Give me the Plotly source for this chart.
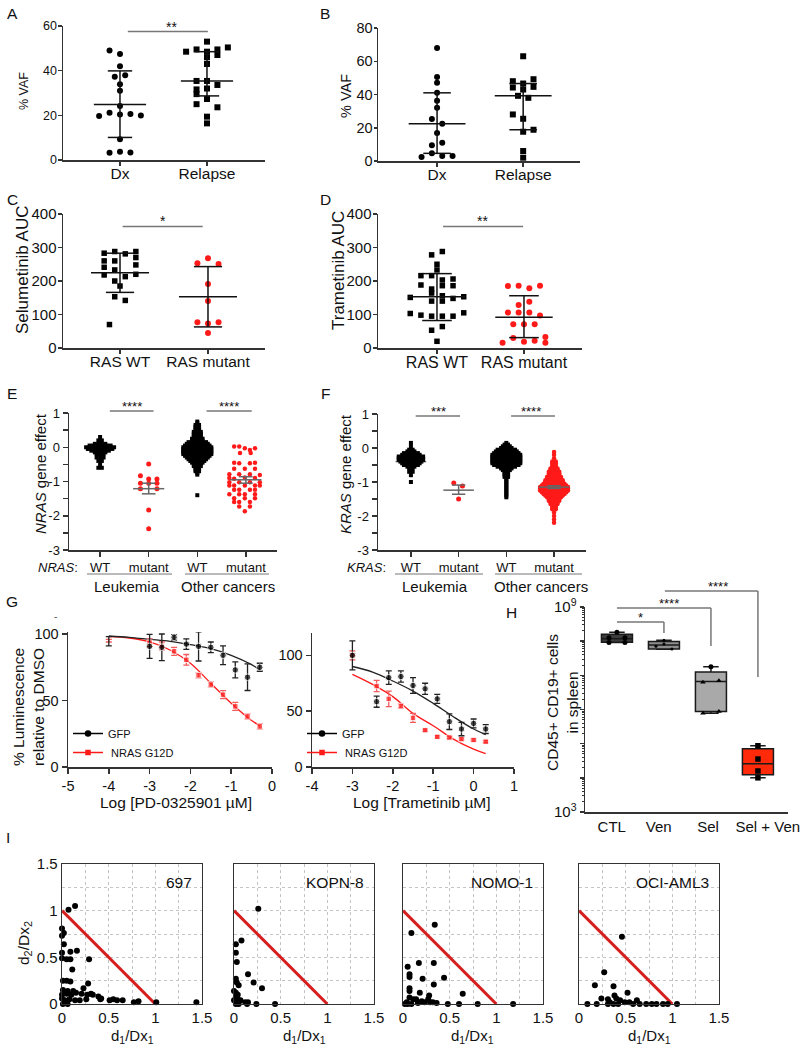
import math
import plotly.graph_objects as go

W, H = 809, 1050
FONT = "Liberation Sans, Arial, Helvetica, sans-serif"
INK = "#111111"
AXC = "#333333"
RED = "#ff1a1a"
RED_ERR = "#f25c5c"
BRK = "#777777"
MEANGRAY = "#666666"

# ======================= DATA =======================
# ---- A: % VAF, Dx vs Relapse ----
A_cats = ["Dx", "Relapse"]
A_dx = [49, 47.5, 42, 37.3, 38, 33.9, 31, 24.2, 21.2, 20.4, 20.6, 19.7, 19.9, 9.3, 3.3, 3.7, 3.4]
A_dx_jit = [-1, 0, 0, -0.5, 0.5, 0, 0, 0, -1, 0, 1, -2, 2, 0, -1, 0, 1]
A_rel = [48.5, 49.5, 53, 48.5, 49.5, 50.4, 46, 43, 47, 35.4, 35.4, 33.6, 31.6, 32, 29.5, 27.3, 25, 23.6, 19.4, 16.4]
A_rel_jit = [-2, -1, 0, 0, 1, 2, 0, 0, 1, -1, 0, 1, -1, 0, -1, 0, -1, 1, 0, 0]
A_mid = [24.9, 35.4]
A_lo = [10.1, 28.7]
A_hi = [39.9, 48.5]

# ---- B ----
B_cats = ["Dx", "Relapse"]
B_dx = [68, 50.6, 47, 41, 36.2, 32, 25.2, 22.4, 16.8, 11, 9.4, 4.6, 3, 3, 2.4]
B_dx_jit = [0, 0, 0, 0, 0, 0, -0.5, 0.5, 0, 0.5, -0.5, -0.5, 0.5, 1.5, -1.5]
B_rel = [63, 48, 46.6, 49.2, 44.2, 43, 44.6, 39.2, 38, 28, 25.4, 17.6, 18.8, 6, 2]
B_rel_jit = [0, -1, 0, 1, -1, 0, 1, -0.5, 0.5, -1, 0, 0, 1, 0, 0]
B_mid = [22.4, 39.2]
B_lo = [4.6, 18.8]
B_hi = [41, 46.6]

# ---- C: Selumetinib AUC ----
C_cats = ["RAS WT", "RAS mutant"]
C_wt = [283, 288, 281, 288, 260, 260, 270, 241, 233, 248, 218, 213, 220, 200, 185, 153, 142, 70]
C_wt_jit = [-1.5, -0.5, 0.5, 1.5, -1.5, -0.5, 1.5, -1.5, -0.5, 1.5, -1.5, 0.5, 1.5, -0.5, 0, -0.5, 0.5, -1]
C_mut = [253, 268, 251, 191, 140, 77, 73, 77, 45]
C_mut_jit = [-1, 0, 1, 0, 0, -1, 0, 1, 0]
C_mid = [225, 153]
C_lo = [166, 63]
C_hi = [283, 243]

# ---- D: Trametinib AUC ----
D_cats = ["RAS WT", "RAS mutant"]
D_wt = [288, 278, 250, 233, 216, 216, 206, 203, 188, 186, 186, 176, 151, 164, 156, 148, 153,
        140, 140, 103, 98, 95, 95, 95, 105, 53, 64, 20]
D_wt_jit = [0.5, -0.5, 0, 0, -1.5, -0.5, 1.5, 0.5, -1.5, 0.5, 1.5, -0.5, -2.5, -0.5, 0.5, 1.5, 2.5,
            -0.5, 0.5, -2.5, -1.5, -0.5, 0.5, 1.5, 2.5, -0.5, 0.5, 0]
D_mut = [185, 186, 178, 186, 128, 138, 106, 106, 106, 97, 71, 71, 71, 30, 19, 22, 33, 16, 16]
D_mut_jit = [-1.5, -0.5, 0.5, 1.5, -0.5, 0.5, -1.5, -0.5, 0.5, 1.5, -1, 0, 1, -1, 0, 1, 2, 2, -2]
D_mid = [153, 92]
D_lo = [82, 31]
D_hi = [222, 156]

# ---- E: NRAS gene effect ----
E_cats = ["WT", "mutant", "WT", "mutant"]
E_leuk_wt_levels = [0.3, 0.2, 0.1, 0.05, 0.0, -0.05, -0.1, -0.15, -0.2, -0.3, -0.4, -0.5, -0.6]
E_leuk_wt_counts = [1, 2, 4, 7, 9, 8, 6, 4, 3, 3, 2, 1, 2]
E_leuk_mut = [-0.49, -0.83, -0.93, -0.93, -1.05, -1.05, -1.05, -1.21, -1.21, -1.83, -2.38]
E_leuk_mut_jit = [0, -1, 0, 1, -1, 0, 1, -1, 1, 0, 0]
E_oth_wt_levels = [0.75, 0.7, 0.65, 0.6, 0.55, 0.5, 0.45, 0.4, 0.35, 0.3, 0.25, 0.2, 0.15, 0.1, 0.05, 0.0,
                   -0.05, -0.1, -0.15, -0.2, -0.25, -0.3, -0.35, -0.4, -0.45, -0.5, -0.55, -0.6, -0.65,
                   -0.7, -0.75, -0.8, -1.4]
E_oth_wt_counts = [1, 1, 2, 2, 2, 2, 3, 3, 3, 3, 4, 4, 6, 7, 8, 9, 9, 9, 9, 9, 8, 7, 6, 5, 4, 3, 3, 2, 2,
                   2, 1, 1, 1]
E_oth_mut = [0.02, 0.02, -0.03, -0.08, -0.03, -0.17, -0.17, -0.45, -0.47, -0.47, -0.45, -0.63, -0.63, -0.63,
             -0.79, -0.79, -0.79, -0.81, -0.9, -0.92, -0.88, -0.9, -1.02, -1.02, -1.02, -1.02,
             -1.12, -1.12, -1.12, -1.12, -1.12, -1.24, -1.24, -1.24, -1.24, -1.37, -1.37, -1.37, -1.37,
             -1.49, -1.49, -1.49, -1.6, -1.6, -1.6, -1.73, -1.73, -1.87]
E_oth_mut_jit = [-2.2, -1.25, -0.2, 0.75, 1.7, -1.1, 0.9, -2.2, -1.25, 0.75, 1.7, -2.2, -0.2, 1.7,
                 -3.1, -1.25, 0.75, 2.6, -3.1, -2.2, -0.2, 1.7, -3.1, -1.25, 0.75, 2.6,
                 -3.1, -2.2, -0.2, 1.7, 2.6, -2.2, -1.25, 0.75, 1.7, -3.1, -1.25, -0.2, 1.7,
                 -2.2, -0.2, 1.7, -2.2, -1.25, 0.75, -1.25, 0.75, -0.2]
E_mid = [-0.03, -1.21, -0.13, -0.95]
E_lo = [-0.06, -1.36, -0.14, -1.05]
E_hi = [0.0, -1.05, -0.12, -0.86]

# ---- F: KRAS gene effect ----
F_cats = ["WT", "mutant", "WT", "mutant"]
F_leuk_wt_levels = [0.15, 0.05, -0.05, -0.1, -0.15, -0.2, -0.25, -0.3, -0.35, -0.4, -0.45, -0.5, -0.55,
                    -0.6, -0.7, -0.8, -1.0]
F_leuk_wt_counts = [1, 1, 2, 3, 5, 6, 8, 8, 8, 7, 6, 5, 3, 2, 2, 1, 1]
F_leuk_mut = [-1.03, -1.12, -1.5]
F_leuk_mut_jit = [-1.4, 1.1, 0]
F_oth_wt_levels = [0.15, 0.1, 0.05, 0.0, -0.05, -0.1, -0.15, -0.2, -0.25, -0.3, -0.35, -0.4, -0.45, -0.5,
                   -0.55, -0.6, -0.65, -0.7, -0.75, -0.8, -0.85, -0.9, -0.95, -1.0, -1.05, -1.1, -1.15,
                   -1.2, -1.25, -1.3, -1.35, -1.4, -1.45]
F_oth_wt_counts = [1, 2, 3, 4, 6, 7, 8, 9, 9, 9, 9, 9, 9, 8, 6, 4, 3, 2, 2, 2, 2, 1, 1, 1, 1, 1, 1,
                   1, 1, 1, 1, 1, 1]
F_oth_mut_levels = [-0.12, -0.2, -0.3, -0.4, -0.45, -0.5, -0.55, -0.6, -0.65, -0.7, -0.75, -0.8, -0.85,
                    -0.9, -0.95, -1.0, -1.05, -1.1, -1.15, -1.2, -1.25, -1.3, -1.35, -1.4, -1.45, -1.5,
                    -1.55, -1.6, -1.65, -1.7, -1.75, -1.8, -1.9, -2.0, -2.1, -2.2]
F_oth_mut_counts = [1, 1, 1, 2, 2, 2, 2, 3, 3, 4, 4, 4, 5, 5, 6, 6, 7, 8, 9, 9, 9, 8, 7, 6, 5, 4,
                    4, 3, 3, 2, 2, 2, 1, 1, 1, 1]
F_mid = [-0.4, -1.24, -0.45, -1.15]
F_lo = [-0.44, -1.36, -0.47, -1.19]
F_hi = [-0.36, -1.09, -0.43, -1.11]

# ---- G: dose response ----
G1_x = [-4, -3, -2.7, -2.4, -2.1, -1.8, -1.5, -1.2, -0.9, -0.6, -0.3]
G1_gfp = [94.5, 90.7, 90, 97.5, 92.4, 90.7, 90, 84, 73, 67.5, 75]
G1_gfp_err = [3.5, 9, 10, 2, 4, 11, 4, 7, 6, 10, 3]
G1_nras = [95, 93.5, 91, 87, 80.6, 69, 62, 54.4, 45.6, 38, 30.5]
G1_nras_err = [1, 3, 3, 3, 4, 2, 2, 3, 3, 2, 2]
G1_fit_x = [-4, -3.5, -3, -2.5, -2, -1.5, -1, -0.5, -0.3]
G1_fit_gfp = [98.5, 97.5, 96, 94.5, 92, 89, 84, 77, 73]
G1_fit_nras = [98, 97, 94, 88, 78, 63, 48, 35, 31]
G1_stray_x = [-4.3]
G1_stray_y = [113]

G2_x = [-3, -2.4, -2.1, -1.8, -1.5, -1.2, -0.9, -0.6, -0.3, 0, 0.3]
G2_gfp = [100, 58.5, 80, 81, 73, 70, 61, 40.6, 34, 39, 34]
G2_gfp_err = [13, 5, 6, 5, 7, 5, 4, 7, 6, 4, 4]
G2_nras = [100, 72.5, 61, 54.6, 44, 33, 27, 26.4, 25, 24.2, 22.7]
G2_nras_err = [4, 5, 7, 2, 4, 1, 1, 1, 1, 1, 1]
G2_fit_x = [-3, -2.5, -2, -1.5, -1, -0.5, 0, 0.3]
G2_fit_gfp = [90, 85, 77, 68, 57, 45, 34, 29]
G2_fit_nras = [83, 74, 63, 48, 37, 25, 16, 12]

# ---- H: CD45+ CD19+ cells (log10 values) ----
H_cats = ["CTL", "Ven", "Sel", "Sel + Ven"]
H_lo = [7.96, 7.76, 5.89, 4.0]
H_q1 = [7.97, 7.77, 5.94, 4.09]
H_med = [8.07, 7.89, 6.82, 4.41]
H_q3 = [8.20, 7.99, 7.10, 4.85]
H_hi = [8.26, 8.03, 7.25, 4.94]
H_pts = [[8.26, 8.10, 8.10, 7.96, 7.96],
         [8.03, 7.92, 7.85, 7.77],
         [7.25, 6.80, 6.84, 5.89, 5.94],
         [4.94, 4.55, 4.20, 4.00]]
H_pts_jit = [[0, -1, 1, -1, 1],
             [0, 0, -1, 1],
             [0, -1, 1, -1, 1],
             [0, 0, 0, 0]]
H_colors = ["#3c3c3c", "#8e8e8e", "#a9a9a9", "#ff2a0a"]

# ---- I: isobologram-like scatter ----
I_names = ["697", "KOPN-8", "NOMO-1", "OCI-AML3"]
I1_x = [0.07, 0.14, 0.0, 0.02, 0.0, 0.02, 0.0, 0.09, 0.16, 0.0, 0.05, 0.09, 0.29, 0.11, 0.01, 0.05, 0.09,
        0.28, 0.01, 0.06, 0.12, 0.23, 0.0, 0.05, 0.10, 0.15, 0.21, 0.27, 0.31, 0.33, 0.39, 0.42, 0.51,
        0.55, 0.65, 0.77, 0.82, 1.01, 1.44, 0.0, 0.03, 0.08, 0.14, 0.19, 0.01, 0.06, 0.26, 0.59, 0.41]
I1_y = [1.01, 1.05, 0.81, 0.76, 0.73, 0.64, 0.55, 0.56, 0.57, 0.49, 0.48, 0.48, 0.48, 0.37, 0.25, 0.25, 0.24,
        0.22, 0.15, 0.14, 0.14, 0.17, 0.10, 0.11, 0.10, 0.12, 0.11, 0.10, 0.11, 0.10, 0.08, 0.06, 0.04,
        0.05, 0.04, 0.02, 0.03, 0.02, 0.02, 0.06, 0.04, 0.05, 0.04, 0.04, 0.0, 0.0, 0.05, 0.04, 0.05]
I2_x = [0.26, 0.08, 0.02, 0.02, 0.03, 0.15, 0.02, 0.03, 0.21, 0.05, 0.30, 0.02, 0.04, 0.02, 0.04, 0.07,
        0.12, 0.15, 0.24, 0.44, 0.02, 0.05, 0.14, 0.0, 0.0]
I2_y = [1.02, 0.68, 0.64, 0.55, 0.45, 0.32, 0.27, 0.23, 0.23, 0.20, 0.17, 0.12, 0.10, 0.07, 0.05, 0.04,
        0.02, 0.02, 0.0, 0.0, 0.0, 0.0, 0.0, 0.04, 0.14]
I3_x = [0.34, 0.09, 0.05, 0.17, 0.33, 0.07, 0.07, 0.21, 0.44, 0.33, 0.07, 0.07, 0.18, 0.64, 0.28, 0.07,
        0.11, 0.14, 0.20, 0.23, 0.29, 0.32, 0.36, 0.48, 0.60, 0.80, 1.18, 0.04, 0.05, 0.02, 0.09, 0.16, 0.27]
I3_y = [0.85, 0.76, 0.40, 0.44, 0.44, 0.32, 0.29, 0.27, 0.28, 0.21, 0.17, 0.14, 0.12, 0.11, 0.09, 0.07,
        0.05, 0.05, 0.03, 0.02, 0.02, 0.02, 0.01, 0.0, 0.0, 0.0, 0.0, 0.02, 0.0, 0.0, 0.0, 0.01, 0.05]
I4_x = [0.46, 0.27, 0.17, 0.37, 0.24, 0.31, 0.38, 0.52, 0.40, 0.44, 0.49, 0.54, 0.58, 0.62, 0.65, 0.72,
        0.78, 0.83, 0.90, 0.95, 1.05, 0.09, 0.19, 0.31, 0.37, 0.42, 0.33]
I4_y = [0.72, 0.34, 0.20, 0.19, 0.06, 0.05, 0.09, 0.12, 0.06, 0.04, 0.02, 0.02, 0.0, 0.04, 0.0, 0.0,
        0.0, 0.0, 0.0, 0.0, 0.0, 0.0, 0.0, 0.0, 0.0, 0.0, 0.02]
I_line_x = [0, 1]
I_line_y = [1, 0]

# ======================= HELPERS =======================
fig = go.Figure()
layout = dict(template="none", width=W, height=H, margin=dict(l=0, r=0, t=0, b=0, pad=0),
              paper_bgcolor="white", plot_bgcolor="white",
              font=dict(family=FONT, color=INK, size=12))
annotations = []
shapes = []


def xd(a, b):
    return [a / W, b / W]


def yd(top, bot):
    return [1 - bot / H, 1 - top / H]


def sfx(n):
    return "" if n == 1 else str(n)


def axref(n):
    s = sfx(n)
    return dict(xaxis="x" + s, yaxis="y" + s)


def set_axes(n, xdom, ydom, xr, yr, xkw=None, ykw=None):
    s = sfx(n)
    base = dict(showline=True, linecolor=AXC, linewidth=1.5, ticks="outside", ticklen=5, tickwidth=1.5,
                tickcolor=AXC, showgrid=False, zeroline=False, fixedrange=True, automargin=False)
    xa = dict(base, domain=xdom, range=xr, anchor="y" + s)
    ya = dict(base, domain=ydom, range=yr, anchor="x" + s)
    xa.update(xkw or {})
    ya.update(ykw or {})
    layout["xaxis" + s] = xa
    layout["yaxis" + s] = ya


def tf(size):
    return dict(family=FONT, size=size, color=INK)


def add_dots(n, cat, vals, jit, step, symbol, color, size):
    fig.add_trace(go.Scatter(x=[cat + j * step for j in jit], y=vals, mode="markers",
                             marker=dict(symbol=symbol, color=color, size=size, line=dict(width=0)),
                             showlegend=False, hoverinfo="skip", cliponaxis=False, **axref(n)))


def add_summary(n, cats, mid, lo, hi, wmid, wcap, color, width=1.5):
    xs, ys = [], []
    for c, m, l, h in zip(cats, mid, lo, hi):
        xs += [c - wmid, c + wmid, None, c, c, None, c - wcap, c + wcap, None, c - wcap, c + wcap, None]
        ys += [m, m, None, l, h, None, l, l, None, h, h, None]
    fig.add_trace(go.Scatter(x=xs, y=ys, mode="lines", line=dict(color=color, width=width),
                             showlegend=False, hoverinfo="skip", **axref(n)))


def swarm(levels, counts):
    vals, offs = [], []
    for v, c in zip(levels, counts):
        for i in range(c):
            vals.append(v)
            offs.append(i - (c - 1) / 2)
    return vals, offs


def yfrac(v, r, log=False):
    if log:
        v = math.log10(v)
    return (v - r[0]) / (r[1] - r[0])


def add_bracket(n, segs, yr, log=False):
    s = sfx(n)
    for x0, y0, x1, y1 in segs:
        shapes.append(dict(type="line", xref="x" + s, yref="y" + s + " domain", x0=x0, x1=x1,
                           y0=yfrac(y0, yr, log), y1=yfrac(y1, yr, log),
                           line=dict(color=BRK, width=1.5)))


def add_star(n, x, y, text, yr, log=False, size=14):
    s = sfx(n)
    annotations.append(dict(xref="x" + s, yref="y" + s + " domain", x=x, y=yfrac(y, yr, log), text=text,
                            showarrow=False, font=tf(size), xanchor="center", yanchor="bottom", yshift=-5))


def txt(x, y, text, size, angle=0, xanchor="center", yanchor="middle", color=INK):
    annotations.append(dict(xref="paper", yref="paper", x=x / W, y=1 - y / H, text=text, showarrow=False,
                            font=dict(family=FONT, size=size, color=color), textangle=angle,
                            xanchor=xanchor, yanchor=yanchor))


CAT_X = dict(ticklen=4, ticklabelstandoff=-5)
NUM_Y = dict(ticklen=4, ticklabelstandoff=-2)

# ======================= A =======================
A_yr = [0, 60]
set_axes(1, xd(63, 265), yd(26, 160), [-0.655, 1.667], A_yr,
         dict(CAT_X, tickvals=[0, 1], ticktext=A_cats, tickfont=tf(15.5)),
         dict(NUM_Y, tickvals=[0, 20, 40, 60], tickfont=tf(12.5)))
add_dots(1, 0, A_dx, A_dx_jit, 0.12, "circle", "black", 6)
add_dots(1, 1, A_rel, A_rel_jit, 0.12, "square", "black", 6)
add_summary(1, [0, 1], A_mid, A_lo, A_hi, 0.3, 0.14, "#111")
add_bracket(1, [(0.09, 57.5, 1.01, 57.5)], A_yr)
add_star(1, 0.59, 57.5, "**", A_yr)

# ======================= B =======================
B_yr = [0, 80]
set_axes(2, xd(378, 580), yd(28, 161), [-0.686, 1.66], B_yr,
         dict(CAT_X, tickvals=[0, 1], ticktext=B_cats, tickfont=tf(15.5)),
         dict(NUM_Y, tickvals=[0, 20, 40, 60, 80], tickfont=tf(14.5), ticklen=3))
add_dots(2, 0, B_dx, B_dx_jit, 0.12, "circle", "black", 6)
add_dots(2, 1, B_rel, B_rel_jit, 0.12, "square", "black", 6)
add_summary(2, [0, 1], B_mid, B_lo, B_hi, 0.33, 0.16, "#111")

# ======================= C =======================
C_yr = [0, 400]
set_axes(3, xd(63, 265), yd(214, 348), [-0.648, 1.648], C_yr,
         dict(CAT_X, tickvals=[0, 1], ticktext=C_cats, tickfont=tf(15.5)),
         dict(NUM_Y, tickvals=[0, 100, 200, 300, 400], tickfont=tf(15)))
add_dots(3, 0, C_wt, C_wt_jit, 0.12, "square", "black", 5.5)
add_dots(3, 1, C_mut, C_mut_jit, 0.12, "circle", RED, 6)
add_summary(3, [0, 1], C_mid, C_lo, C_hi, 0.33, 0.16, "#111")
add_bracket(3, [(0.03, 363, 0.94, 363)], C_yr)
add_star(3, 0.49, 363, "*", C_yr)

# ======================= D =======================
D_yr = [0, 400]
set_axes(4, xd(378, 582), yd(214, 348), [-0.678, 1.667], D_yr,
         dict(CAT_X, tickvals=[0, 1], ticktext=D_cats, tickfont=tf(16)),
         dict(NUM_Y, tickvals=[0, 100, 200, 300, 400], tickfont=tf(15)))
add_dots(4, 0, D_wt, D_wt_jit, 0.123, "square", "black", 5.5)
add_dots(4, 1, D_mut, D_mut_jit, 0.123, "circle", RED, 6)
add_summary(4, [0, 1], D_mid, D_lo, D_hi, 0.33, 0.17, "#111")
add_bracket(4, [(0.07, 363, 0.99, 363)], D_yr)
add_star(4, 0.52, 363, "**", D_yr)

# ======================= E =======================
E_yr = [-3, 1]
gene_y = dict(tickvals=[-3, -2, -1, 0, 1], ticktext=["-3", "-2", "-1", "0", "1"], tickfont=tf(13),
              minor=dict(ticks="outside", dtick=0.5, tick0=0, ticklen=5, tickwidth=1.5, tickcolor=AXC))
set_axes(5, xd(69, 277), yd(413, 550), [-0.64, 3.64], E_yr,
         dict(tickvals=[0, 1, 2, 3], ticktext=E_cats, tickfont=tf(13)), gene_y)
E_sw_step = 0.072
v, o = swarm(E_leuk_wt_levels, E_leuk_wt_counts)
add_summary(5, [0], E_mid[:1], E_lo[:1], E_hi[:1], 0.32, 0.14, MEANGRAY)
add_dots(5, 0, v, o, E_sw_step, "square", "black", 4)
add_dots(5, 1, E_leuk_mut, E_leuk_mut_jit, 0.17, "circle", RED, 5)
add_summary(5, [1], E_mid[1:2], E_lo[1:2], E_hi[1:2], 0.32, 0.14, MEANGRAY)
v, o = swarm(E_oth_wt_levels, E_oth_wt_counts)
add_dots(5, 2, v, o, E_sw_step, "square", "black", 4)
add_dots(5, 3, E_oth_mut, E_oth_mut_jit, 0.11, "circle", RED, 4.5)
add_summary(5, [3], E_mid[3:], E_lo[3:], E_hi[3:], 0.32, 0.14, MEANGRAY)
add_bracket(5, [(0.2, 1.06, 1.1, 1.06), (2.19, 1.06, 3.12, 1.06)], E_yr)
add_star(5, 0.66, 1.06, "****", E_yr, size=13)
add_star(5, 2.65, 1.06, "****", E_yr, size=13)

# ======================= F =======================
F_yr = [-3, 1]
set_axes(6, xd(378, 586), yd(414, 550), [-0.69, 3.67], F_yr,
         dict(tickvals=[0, 1, 2, 3], ticktext=F_cats, tickfont=tf(13)), gene_y)
F_sw_step = 0.073
v, o = swarm(F_leuk_wt_levels, F_leuk_wt_counts)
add_summary(6, [0], F_mid[:1], F_lo[:1], F_hi[:1], 0.32, 0.14, MEANGRAY)
add_dots(6, 0, v, o, F_sw_step, "square", "black", 4)
add_dots(6, 1, F_leuk_mut, F_leuk_mut_jit, F_sw_step, "circle", RED, 5)
add_summary(6, [1], F_mid[1:2], F_lo[1:2], F_hi[1:2], 0.32, 0.14, MEANGRAY)
v, o = swarm(F_oth_wt_levels, F_oth_wt_counts)
add_dots(6, 2, v, o, F_sw_step, "square", "black", 4)
v, o = swarm(F_oth_mut_levels, F_oth_mut_counts)
add_dots(6, 3, v, o, F_sw_step, "circle", RED, 4.5)
add_summary(6, [3], F_mid[3:], F_lo[3:], F_hi[3:], 0.32, 0.14, MEANGRAY)
add_bracket(6, [(0.1, 0.94, 1.03, 0.94), (2.1, 0.94, 3.02, 0.94)], F_yr)
add_star(6, 0.57, 0.94, "***", F_yr, size=13)
add_star(6, 2.52, 0.94, "****", F_yr, size=13)

# ======================= G =======================
set_axes(7, xd(68, 272), yd(632, 767), [-5, 0], [0, 101.5],
         dict(tickvals=[-5, -4, -3, -2, -1, 0], ticktext=["-5", "-4", "-3", "-2", "-1", "0"], tickfont=tf(14.5)),
         dict(tickvals=[0, 50, 100], tickfont=tf(14.5)))
set_axes(8, xd(312, 514), yd(633, 767), [-4, 1], [0, 120],
         dict(tickvals=[-4, -3, -2, -1, 0, 1], ticktext=["-4", "-3", "-2", "-1", "0", "1"], tickfont=tf(14.5)),
         dict(tickvals=[0, 50, 100], tickfont=tf(14.5)))

for n, fx, fg, fn, xs, gy, ge, ny, ne, lg in [
        (7, G1_fit_x, G1_fit_gfp, G1_fit_nras, G1_x, G1_gfp, G1_gfp_err, G1_nras, G1_nras_err, "legend"),
        (8, G2_fit_x, G2_fit_gfp, G2_fit_nras, G2_x, G2_gfp, G2_gfp_err, G2_nras, G2_nras_err, "legend2")]:
    fig.add_trace(go.Scatter(x=fx, y=fn, mode="lines", line=dict(color=RED, width=1.3, shape="spline"),
                             showlegend=False, hoverinfo="skip", **axref(n)))
    fig.add_trace(go.Scatter(x=fx, y=fg, mode="lines", line=dict(color="#222", width=1.3, shape="spline"),
                             showlegend=False, hoverinfo="skip", **axref(n)))
    hide_first = (n == 7)
    fig.add_trace(go.Scatter(x=xs, y=ny, mode="markers",
                             marker=dict(symbol="square", color=RED,
                                         size=[0 if (hide_first and i == 0) else 5.5 for i in range(len(xs))]),
                             error_y=dict(type="data", array=ne, color=RED_ERR, thickness=1.3, width=3),
                             showlegend=False, hoverinfo="skip", cliponaxis=False, **axref(n)))
    fig.add_trace(go.Scatter(x=xs, y=gy, mode="markers",
                             marker=dict(symbol="circle", color="black",
                                         size=[0 if (hide_first and i == 0) else 6.5 for i in range(len(xs))]),
                             error_y=dict(type="data", array=ge, color="#222", thickness=1.3, width=3),
                             showlegend=False, hoverinfo="skip", cliponaxis=False, **axref(n)))
    fig.add_trace(go.Scatter(x=[None], y=[None], mode="lines+markers", name="GFP",
                             line=dict(color="black", width=1.5), marker=dict(symbol="circle", color="black", size=6.5),
                             legend=lg, **axref(n)))
    fig.add_trace(go.Scatter(x=[None], y=[None], mode="lines+markers", name=" NRAS G12D",
                             line=dict(color=RED, width=1.5), marker=dict(symbol="square", color=RED, size=5.5),
                             legend=lg, **axref(n)))

# stray point above G left panel
fig.add_trace(go.Scatter(x=G1_stray_x, y=G1_stray_y, mode="markers",
                         marker=dict(symbol="square", color=RED, size=6), showlegend=False,
                         hoverinfo="skip", cliponaxis=False, **axref(7)))
fig.add_trace(go.Scatter(x=G1_stray_x, y=G1_stray_y, mode="markers",
                         marker=dict(symbol="circle", color="black", size=3.5), showlegend=False,
                         hoverinfo="skip", cliponaxis=False, **axref(7)))

leg_common = dict(xanchor="left", yanchor="top", font=tf(11), bgcolor="rgba(0,0,0,0)",
                  itemwidth=30, tracegroupgap=0, traceorder="normal")
layout["legend"] = dict(leg_common, x=68 / W, y=1 - 719 / H)
layout["legend2"] = dict(leg_common, x=302 / W, y=1 - 719 / H)

# ======================= H =======================
H_yr = [3, 9]
H_label_pos = [-0.11, 0.89, 1.94, 3.21]
set_axes(9, xd(585, 788), yd(607, 812), [-0.68, 3.64], H_yr,
         dict(tickvals=H_label_pos, ticktext=H_cats, tickfont=tf(15), ticks=""),
         dict(type="log", tickvals=[10 ** k for k in range(3, 10)],
              ticktext=["10<sup>3</sup>", "", "", "", "", "", "10<sup>9</sup>"], tickfont=tf(15),
              ticklen=4, minor=dict(ticks="outside", ticklen=2, tickwidth=1, tickcolor=AXC, dtick="D1")))
for i in range(4):
    fig.add_trace(go.Box(x=[i], q1=[10 ** H_q1[i]], median=[10 ** H_med[i]], q3=[10 ** H_q3[i]],
                         lowerfence=[10 ** H_lo[i]], upperfence=[10 ** H_hi[i]],
                         fillcolor=H_colors[i], line=dict(color="#1a1a1a", width=1.5), width=0.66,
                         whiskerwidth=0.5, boxpoints=False, showlegend=False, hoverinfo="skip", **axref(9)))
H_symbols = [["circle"] * 5, ["circle"] * 4, ["circle", "triangle-up", "triangle-up", "triangle-up", "triangle-up"],
             ["square"] * 4]
H_sizes = [5, 3, 5, 5.5]
for i in range(4):
    fig.add_trace(go.Scatter(x=[i + j * 0.17 for j in H_pts_jit[i]], y=[10 ** v for v in H_pts[i]],
                             mode="markers", marker=dict(symbol=H_symbols[i], color="black", size=H_sizes[i]),
                             showlegend=False, hoverinfo="skip", cliponaxis=False, **axref(9)))
add_bracket(9, [(0, 10 ** 8.56, 1, 10 ** 8.56), (1, 10 ** 8.56, 1, 10 ** 8.24),
                (0, 10 ** 8.97, 2, 10 ** 8.97), (2, 10 ** 8.97, 2, 10 ** 7.86),
                (1.02, 10 ** 9.47, 3, 10 ** 9.47), (3, 10 ** 9.47, 3, 10 ** 6.95)], H_yr, log=True)
add_star(9, 0.51, 10 ** 8.56, "*", H_yr, log=True, size=13)
add_star(9, 1.1, 10 ** 8.97, "****", H_yr, log=True, size=13)
add_star(9, 2.15, 10 ** 9.47, "****", H_yr, log=True, size=13)

# ======================= I =======================
I_doms = [(62, 202), (234, 374), (403, 543), (579, 719)]
I_data = [(I1_x, I1_y), (I2_x, I2_y), (I3_x, I3_y), (I4_x, I4_y)]
for k in range(4):
    n = 10 + k
    grid = dict(showgrid=True, gridcolor="#c4c4c4", griddash="dot", gridwidth=1, mirror=True, ticks="",
                linewidth=1.3, tickvals=[0, 0.5, 1, 1.5], ticktext=["0", "0.5", "1", "1.5"], tickfont=tf(15),
                minor=dict(dtick=0.25, tick0=0, showgrid=True, gridcolor="#c4c4c4", griddash="dot", gridwidth=1))
    ykw = dict(grid)
    if k > 0:
        ykw["showticklabels"] = False
    set_axes(n, xd(*I_doms[k]), yd(864, 1004), [0, 1.5], [0, 1.5], dict(grid), ykw)
    fig.add_trace(go.Scatter(x=I_line_x, y=I_line_y, mode="lines", line=dict(color="#d61e1e", width=3),
                             showlegend=False, hoverinfo="skip", **axref(n)))
    fig.add_trace(go.Scatter(x=I_data[k][0], y=I_data[k][1], mode="markers",
                             marker=dict(symbol="circle", color="black", size=6),
                             showlegend=False, hoverinfo="skip", cliponaxis=False, **axref(n)))
    annotations.append(dict(xref="x%d domain" % n, yref="y%d domain" % n, x=0.94, y=0.865, text=I_names[k],
                            showarrow=False, font=tf(15.5), xanchor="right", yanchor="middle"))

# ======================= TEXT =======================
for L, x, y in [("A", 12, 14), ("B", 325, 13), ("C", 12, 199), ("D", 325, 199), ("E", 12, 393),
                ("F", 325, 393), ("G", 12, 601), ("H", 512, 612), ("I", 8, 837)]:
    txt(x, y, L, 15.5)

txt(24, 91, "% VAF", 12.5, angle=-90)
txt(346, 96, "% VAF", 14.5, angle=-90)
txt(22, 270, "Selumetinib AUC", 17, angle=-90)
txt(338, 271, "Trametinib AUC", 17, angle=-90)
txt(41, 474, "<i>NRAS</i> gene effect", 15, angle=-90)
txt(346, 474, "<i>KRAS</i> gene effect", 15, angle=-90)
txt(80, 567, "<i>NRAS</i>:", 13, xanchor="right")
txt(388, 567, "<i>KRAS</i>:", 13, xanchor="right")
txt(127, 586, "Leukemia", 15)
txt(228, 586, "Other cancers", 15)
txt(435, 586, "Leukemia", 15)
txt(541, 586, "Other cancers", 15)
for x0, x1 in [(87, 172), (185, 269), (395, 483), (495, 582)]:
    shapes.append(dict(type="line", xref="paper", yref="paper", x0=x0 / W, x1=x1 / W,
                       y0=1 - 574 / H, y1=1 - 574 / H, line=dict(color=BRK, width=1)))
txt(28, 707, "% Luminescence<br>relative to DMSO", 15.5, angle=-90)
txt(176, 802, "Log [PD-0325901 µM]", 15.5)
txt(422, 802, "Log [Trametinib µM]", 15.5)
txt(55, 616, "-", 10, color="#555")
txt(562, 703, "CD45+ CD19+ cells<br>in spleen", 15.5, angle=-90)
txt(24, 943, "d<sub>2</sub>/Dx<sub>2</sub>", 15.5, angle=-90)
for cx in [132, 304, 473, 649]:
    txt(cx, 1036, "d<sub>1</sub>/Dx<sub>1</sub>", 15)

layout["annotations"] = annotations
layout["shapes"] = shapes
fig.update_layout(**layout)
fig.write_html("out.html", config={"displayModeBar": False, "staticPlot": True},
               post_script="document.body.style.margin='0';document.body.style.padding='0';"
                           "document.documentElement.style.overflow='hidden';")
